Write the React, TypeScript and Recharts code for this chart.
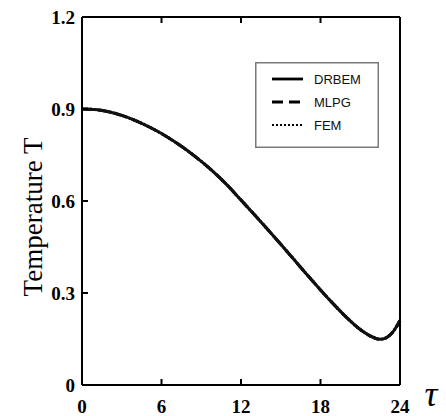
import React from 'react';
import { LineChart, Line, XAxis, YAxis, Legend } from 'recharts';

// Dimensionless time τ and temperature T for the three solution methods
const tau = [0, 1, 2, 3, 4, 5, 6, 7, 8, 9, 10, 11, 12, 13, 14, 15, 16, 17, 18, 19, 20, 21, 22, 22.5, 23, 23.5, 24];
const drbem = [0.9, 0.898, 0.891, 0.879, 0.863, 0.843, 0.82, 0.793, 0.763, 0.729, 0.692, 0.65, 0.603, 0.556, 0.508, 0.459, 0.409, 0.359, 0.31, 0.263, 0.219, 0.181, 0.155, 0.149, 0.155, 0.175, 0.21];
const mlpg = [0.9, 0.898, 0.891, 0.879, 0.863, 0.843, 0.82, 0.793, 0.763, 0.729, 0.692, 0.65, 0.603, 0.556, 0.508, 0.459, 0.409, 0.359, 0.31, 0.263, 0.219, 0.181, 0.155, 0.149, 0.155, 0.175, 0.21];
const fem = [0.9, 0.898, 0.891, 0.879, 0.863, 0.843, 0.82, 0.793, 0.763, 0.729, 0.692, 0.65, 0.603, 0.556, 0.508, 0.459, 0.409, 0.359, 0.31, 0.263, 0.219, 0.181, 0.155, 0.149, 0.155, 0.175, 0.21];

const xTicks = [0, 6, 12, 18, 24];
const yTicks = [0, 0.3, 0.6, 0.9, 1.2];
const yTickLabels = ['0', '0.3', '0.6', '0.9', '1.2'];

const data = tau.map((t, i) => ({ tau: t, DRBEM: drbem[i], MLPG: mlpg[i], FEM: fem[i] }));

const TICK_FONT = {
  fontFamily: '"Liberation Serif", "Times New Roman", serif',
  fontWeight: 700,
  fontSize: 19,
  fill: '#000',
};
const IN = 6;

const isInner = (v: number, arr: number[]) => v !== arr[0] && v !== arr[arr.length - 1];

const LeftTick = (props: any) => {
  const { x, y, payload } = props;
  const v = payload.value as number;
  const idx = yTicks.indexOf(v);
  return (
    <g>
      {isInner(v, yTicks) && <line x1={x} x2={x + IN} y1={y} y2={y} stroke="#000" strokeWidth={2} />}
      <text x={x - 7} y={y} textAnchor="end" dominantBaseline="central" {...TICK_FONT}>
        {idx >= 0 ? yTickLabels[idx] : v}
      </text>
    </g>
  );
};

const RightTick = (props: any) => {
  const { x, y, payload } = props;
  const v = payload.value as number;
  if (!isInner(v, yTicks)) return <g />;
  return <line x1={x - IN} x2={x} y1={y} y2={y} stroke="#000" strokeWidth={2} />;
};

const BottomTick = (props: any) => {
  const { x, y, payload } = props;
  const v = payload.value as number;
  return (
    <g>
      {isInner(v, xTicks) && <line x1={x} x2={x} y1={y} y2={y - IN} stroke="#000" strokeWidth={2} />}
      <text x={x} y={y + 28} textAnchor="middle" {...TICK_FONT}>
        {v}
      </text>
    </g>
  );
};

const TopTick = (props: any) => {
  const { x, y, payload } = props;
  const v = payload.value as number;
  if (!isInner(v, xTicks)) return <g />;
  return <line x1={x} x2={x} y1={y} y2={y + IN} stroke="#000" strokeWidth={2} />;
};

const legendItems = [
  { name: 'DRBEM', dash: undefined as string | undefined, w: 2.8 },
  { name: 'MLPG', dash: '11 6', w: 2.8 },
  { name: 'FEM', dash: '2 2', w: 2.2 },
];

const LegendBox = () => (
  <svg width={124} height={86} style={{ display: 'block' }}>
    <rect x={0.75} y={0.75} width={122.5} height={84.5} fill="#fff" stroke="#7a7a7a" strokeWidth={1.5} />
    {legendItems.map((it, i) => {
      const cy = 17 + i * 23;
      return (
        <g key={it.name}>
          <line x1={17} x2={48} y1={cy} y2={cy} stroke="#000" strokeWidth={it.w} strokeDasharray={it.dash} />
          <text
            x={59}
            y={cy}
            dominantBaseline="central"
            fontFamily='"Liberation Sans", Arial, sans-serif'
            fontSize={13}
            fill="#111"
          >
            {it.name}
          </text>
        </g>
      );
    })}
  </svg>
);

export default function App() {
  return (
    <div style={{ position: 'absolute', left: 0, top: 0, background: '#fff' }}>
      <LineChart width={446} height={416} data={data} margin={{ top: 16, right: 45, bottom: 0, left: 32 }}>
        <XAxis
          dataKey="tau"
          type="number"
          domain={[0, 24]}
          ticks={xTicks}
          height={31}
          tickSize={0}
          tickMargin={0}
          tickLine={false}
          axisLine={{ stroke: '#000', strokeWidth: 2 }}
          tick={<BottomTick />}
          interval={0}
        />
        <XAxis
          xAxisId="top"
          orientation="top"
          dataKey="tau"
          type="number"
          domain={[0, 24]}
          ticks={xTicks}
          height={1}
          tickSize={0}
          tickMargin={0}
          tickLine={false}
          axisLine={{ stroke: '#000', strokeWidth: 2 }}
          tick={<TopTick />}
          interval={0}
        />
        <YAxis
          type="number"
          domain={[0, 1.2]}
          ticks={yTicks}
          width={50}
          tickSize={0}
          tickMargin={0}
          tickLine={false}
          axisLine={{ stroke: '#000', strokeWidth: 2 }}
          tick={<LeftTick />}
          interval={0}
        />
        <YAxis
          yAxisId="right"
          orientation="right"
          type="number"
          domain={[0, 1.2]}
          ticks={yTicks}
          width={1}
          tickSize={0}
          tickMargin={0}
          tickLine={false}
          axisLine={{ stroke: '#000', strokeWidth: 2 }}
          tick={<RightTick />}
          interval={0}
        />
        <Legend
          layout="vertical"
          align="center"
          verticalAlign="middle"
          content={<LegendBox />}
          wrapperStyle={{ position: 'absolute', left: 255, top: 62, width: 124, height: 86, transform: 'none' }}
        />
        <Line dataKey="FEM" type="monotone" stroke="#000" strokeWidth={3} strokeDasharray="2 2" dot={false} isAnimationActive={false} />
        <Line dataKey="MLPG" type="monotone" stroke="#000" strokeWidth={3} strokeDasharray="11 6" dot={false} isAnimationActive={false} />
        <Line dataKey="DRBEM" type="monotone" stroke="#111" strokeWidth={3} dot={false} isAnimationActive={false} />
        <text
          x={33}
          y={217}
          transform="rotate(-90 33 217)"
          textAnchor="middle"
          dominantBaseline="central"
          fontFamily='"Liberation Serif", "Times New Roman", serif'
          fontSize={27}
          fill="#000"
        >
          Temperature T
        </text>
        <text
          x={431}
          y={406}
          textAnchor="middle"
          fontFamily='"Liberation Serif", "Times New Roman", serif'
          fontStyle="italic"
          fontSize={36}
          fill="#000"
        >
          τ
        </text>
      </LineChart>
    </div>
  );
}
